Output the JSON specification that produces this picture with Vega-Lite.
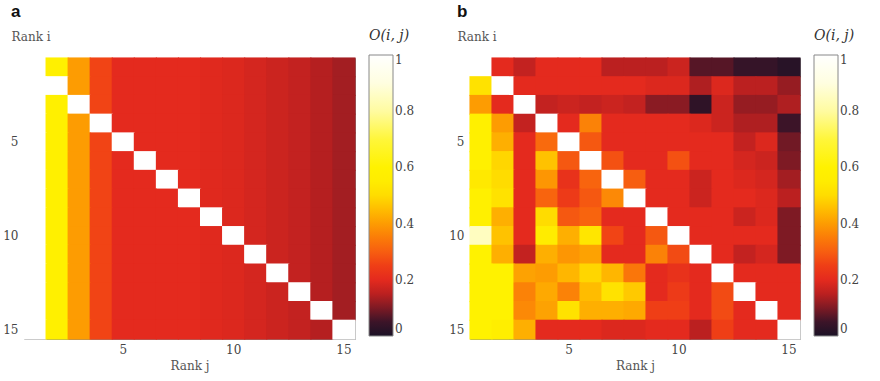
{
"$schema": "https://vega.github.io/schema/vega-lite/v6.json",
"padding": {"left": 2, "top": 2, "right": 2, "bottom": 2},
"background": "white",
"config": {
  "view": {"stroke": "#888", "strokeWidth": 1},
  "axis": {"labelFont": "DejaVu Serif", "labelFontSize": 12, "labelColor": "#444", "titleFont": "DejaVu Serif", "titleFontSize": 12, "titleColor": "#555", "titleFontWeight": "normal", "domain": false, "ticks": false, "grid": false},
  "legend": {"gradientLength": 281, "gradientThickness": 24, "titleFont": "DejaVu Serif", "titleFontStyle": "italic", "titleFontWeight": "normal", "titleFontSize": 14, "titleColor": "#333", "titlePadding": 12, "labelFont": "DejaVu Serif", "labelFontSize": 12, "labelColor": "#444", "labelOffset": 5, "labelBaseline": "middle", "gradientStrokeColor": "#888", "gradientStrokeWidth": 1},
  "title": {"font": "Liberation Sans", "fontSize": 17, "fontWeight": "bold", "color": "#111", "anchor": "start", "frame": "group", "dx": -13, "offset": 8}
},
"spacing": 32,
"resolve": {"scale": {"color": "independent"}},
"datasets": {
"a": [
{"i":1,"j":1,"v":1},{"i":1,"j":2,"v":0.58},{"i":1,"j":3,"v":0.4},{"i":1,"j":4,"v":0.26},{"i":1,"j":5,"v":0.2},{"i":1,"j":6,"v":0.2},{"i":1,"j":7,"v":0.2},{"i":1,"j":8,"v":0.2},{"i":1,"j":9,"v":0.195},{"i":1,"j":10,"v":0.19},{"i":1,"j":11,"v":0.18},{"i":1,"j":12,"v":0.17},{"i":1,"j":13,"v":0.16},{"i":1,"j":14,"v":0.145},{"i":1,"j":15,"v":0.13},
{"i":2,"j":1,"v":1},{"i":2,"j":2,"v":1},{"i":2,"j":3,"v":0.4},{"i":2,"j":4,"v":0.26},{"i":2,"j":5,"v":0.2},{"i":2,"j":6,"v":0.2},{"i":2,"j":7,"v":0.2},{"i":2,"j":8,"v":0.2},{"i":2,"j":9,"v":0.195},{"i":2,"j":10,"v":0.19},{"i":2,"j":11,"v":0.18},{"i":2,"j":12,"v":0.17},{"i":2,"j":13,"v":0.16},{"i":2,"j":14,"v":0.145},{"i":2,"j":15,"v":0.13},
{"i":3,"j":1,"v":1},{"i":3,"j":2,"v":0.58},{"i":3,"j":3,"v":1},{"i":3,"j":4,"v":0.26},{"i":3,"j":5,"v":0.2},{"i":3,"j":6,"v":0.2},{"i":3,"j":7,"v":0.2},{"i":3,"j":8,"v":0.2},{"i":3,"j":9,"v":0.195},{"i":3,"j":10,"v":0.19},{"i":3,"j":11,"v":0.18},{"i":3,"j":12,"v":0.17},{"i":3,"j":13,"v":0.16},{"i":3,"j":14,"v":0.145},{"i":3,"j":15,"v":0.13},
{"i":4,"j":1,"v":1},{"i":4,"j":2,"v":0.58},{"i":4,"j":3,"v":0.4},{"i":4,"j":4,"v":1},{"i":4,"j":5,"v":0.2},{"i":4,"j":6,"v":0.2},{"i":4,"j":7,"v":0.2},{"i":4,"j":8,"v":0.2},{"i":4,"j":9,"v":0.195},{"i":4,"j":10,"v":0.19},{"i":4,"j":11,"v":0.18},{"i":4,"j":12,"v":0.17},{"i":4,"j":13,"v":0.16},{"i":4,"j":14,"v":0.145},{"i":4,"j":15,"v":0.13},
{"i":5,"j":1,"v":1},{"i":5,"j":2,"v":0.58},{"i":5,"j":3,"v":0.4},{"i":5,"j":4,"v":0.26},{"i":5,"j":5,"v":1},{"i":5,"j":6,"v":0.2},{"i":5,"j":7,"v":0.2},{"i":5,"j":8,"v":0.2},{"i":5,"j":9,"v":0.195},{"i":5,"j":10,"v":0.19},{"i":5,"j":11,"v":0.18},{"i":5,"j":12,"v":0.17},{"i":5,"j":13,"v":0.16},{"i":5,"j":14,"v":0.145},{"i":5,"j":15,"v":0.13},
{"i":6,"j":1,"v":1},{"i":6,"j":2,"v":0.58},{"i":6,"j":3,"v":0.4},{"i":6,"j":4,"v":0.26},{"i":6,"j":5,"v":0.2},{"i":6,"j":6,"v":1},{"i":6,"j":7,"v":0.2},{"i":6,"j":8,"v":0.2},{"i":6,"j":9,"v":0.195},{"i":6,"j":10,"v":0.19},{"i":6,"j":11,"v":0.18},{"i":6,"j":12,"v":0.17},{"i":6,"j":13,"v":0.16},{"i":6,"j":14,"v":0.145},{"i":6,"j":15,"v":0.13},
{"i":7,"j":1,"v":1},{"i":7,"j":2,"v":0.58},{"i":7,"j":3,"v":0.4},{"i":7,"j":4,"v":0.26},{"i":7,"j":5,"v":0.2},{"i":7,"j":6,"v":0.2},{"i":7,"j":7,"v":1},{"i":7,"j":8,"v":0.2},{"i":7,"j":9,"v":0.195},{"i":7,"j":10,"v":0.19},{"i":7,"j":11,"v":0.18},{"i":7,"j":12,"v":0.17},{"i":7,"j":13,"v":0.16},{"i":7,"j":14,"v":0.145},{"i":7,"j":15,"v":0.13},
{"i":8,"j":1,"v":1},{"i":8,"j":2,"v":0.58},{"i":8,"j":3,"v":0.4},{"i":8,"j":4,"v":0.26},{"i":8,"j":5,"v":0.2},{"i":8,"j":6,"v":0.2},{"i":8,"j":7,"v":0.2},{"i":8,"j":8,"v":1},{"i":8,"j":9,"v":0.195},{"i":8,"j":10,"v":0.19},{"i":8,"j":11,"v":0.18},{"i":8,"j":12,"v":0.17},{"i":8,"j":13,"v":0.16},{"i":8,"j":14,"v":0.145},{"i":8,"j":15,"v":0.13},
{"i":9,"j":1,"v":1},{"i":9,"j":2,"v":0.58},{"i":9,"j":3,"v":0.4},{"i":9,"j":4,"v":0.26},{"i":9,"j":5,"v":0.2},{"i":9,"j":6,"v":0.2},{"i":9,"j":7,"v":0.2},{"i":9,"j":8,"v":0.2},{"i":9,"j":9,"v":1},{"i":9,"j":10,"v":0.19},{"i":9,"j":11,"v":0.18},{"i":9,"j":12,"v":0.17},{"i":9,"j":13,"v":0.16},{"i":9,"j":14,"v":0.145},{"i":9,"j":15,"v":0.13},
{"i":10,"j":1,"v":1},{"i":10,"j":2,"v":0.58},{"i":10,"j":3,"v":0.4},{"i":10,"j":4,"v":0.26},{"i":10,"j":5,"v":0.2},{"i":10,"j":6,"v":0.2},{"i":10,"j":7,"v":0.2},{"i":10,"j":8,"v":0.2},{"i":10,"j":9,"v":0.195},{"i":10,"j":10,"v":1},{"i":10,"j":11,"v":0.18},{"i":10,"j":12,"v":0.17},{"i":10,"j":13,"v":0.16},{"i":10,"j":14,"v":0.145},{"i":10,"j":15,"v":0.13},
{"i":11,"j":1,"v":1},{"i":11,"j":2,"v":0.58},{"i":11,"j":3,"v":0.4},{"i":11,"j":4,"v":0.26},{"i":11,"j":5,"v":0.2},{"i":11,"j":6,"v":0.2},{"i":11,"j":7,"v":0.2},{"i":11,"j":8,"v":0.2},{"i":11,"j":9,"v":0.195},{"i":11,"j":10,"v":0.19},{"i":11,"j":11,"v":1},{"i":11,"j":12,"v":0.17},{"i":11,"j":13,"v":0.16},{"i":11,"j":14,"v":0.145},{"i":11,"j":15,"v":0.13},
{"i":12,"j":1,"v":1},{"i":12,"j":2,"v":0.58},{"i":12,"j":3,"v":0.4},{"i":12,"j":4,"v":0.26},{"i":12,"j":5,"v":0.2},{"i":12,"j":6,"v":0.2},{"i":12,"j":7,"v":0.2},{"i":12,"j":8,"v":0.2},{"i":12,"j":9,"v":0.195},{"i":12,"j":10,"v":0.19},{"i":12,"j":11,"v":0.18},{"i":12,"j":12,"v":1},{"i":12,"j":13,"v":0.16},{"i":12,"j":14,"v":0.145},{"i":12,"j":15,"v":0.13},
{"i":13,"j":1,"v":1},{"i":13,"j":2,"v":0.58},{"i":13,"j":3,"v":0.4},{"i":13,"j":4,"v":0.26},{"i":13,"j":5,"v":0.2},{"i":13,"j":6,"v":0.2},{"i":13,"j":7,"v":0.2},{"i":13,"j":8,"v":0.2},{"i":13,"j":9,"v":0.195},{"i":13,"j":10,"v":0.19},{"i":13,"j":11,"v":0.18},{"i":13,"j":12,"v":0.17},{"i":13,"j":13,"v":1},{"i":13,"j":14,"v":0.145},{"i":13,"j":15,"v":0.13},
{"i":14,"j":1,"v":1},{"i":14,"j":2,"v":0.58},{"i":14,"j":3,"v":0.4},{"i":14,"j":4,"v":0.26},{"i":14,"j":5,"v":0.2},{"i":14,"j":6,"v":0.2},{"i":14,"j":7,"v":0.2},{"i":14,"j":8,"v":0.2},{"i":14,"j":9,"v":0.195},{"i":14,"j":10,"v":0.19},{"i":14,"j":11,"v":0.18},{"i":14,"j":12,"v":0.17},{"i":14,"j":13,"v":0.16},{"i":14,"j":14,"v":1},{"i":14,"j":15,"v":0.13},
{"i":15,"j":1,"v":1},{"i":15,"j":2,"v":0.58},{"i":15,"j":3,"v":0.4},{"i":15,"j":4,"v":0.26},{"i":15,"j":5,"v":0.2},{"i":15,"j":6,"v":0.2},{"i":15,"j":7,"v":0.2},{"i":15,"j":8,"v":0.2},{"i":15,"j":9,"v":0.195},{"i":15,"j":10,"v":0.19},{"i":15,"j":11,"v":0.18},{"i":15,"j":12,"v":0.17},{"i":15,"j":13,"v":0.16},{"i":15,"j":14,"v":0.145},{"i":15,"j":15,"v":1}
],
"b": [
{"i":1,"j":1,"v":1},{"i":1,"j":2,"v":0.2},{"i":1,"j":3,"v":0.16},{"i":1,"j":4,"v":0.2},{"i":1,"j":5,"v":0.2},{"i":1,"j":6,"v":0.2},{"i":1,"j":7,"v":0.15},{"i":1,"j":8,"v":0.15},{"i":1,"j":9,"v":0.15},{"i":1,"j":10,"v":0.17},{"i":1,"j":11,"v":0.07},{"i":1,"j":12,"v":0.07},{"i":1,"j":13,"v":0.04},{"i":1,"j":14,"v":0.04},{"i":1,"j":15,"v":0.02},
{"i":2,"j":1,"v":0.52},{"i":2,"j":2,"v":1},{"i":2,"j":3,"v":0.2},{"i":2,"j":4,"v":0.2},{"i":2,"j":5,"v":0.2},{"i":2,"j":6,"v":0.2},{"i":2,"j":7,"v":0.2},{"i":2,"j":8,"v":0.2},{"i":2,"j":9,"v":0.19},{"i":2,"j":10,"v":0.19},{"i":2,"j":11,"v":0.14},{"i":2,"j":12,"v":0.19},{"i":2,"j":13,"v":0.15},{"i":2,"j":14,"v":0.15},{"i":2,"j":15,"v":0.12},
{"i":3,"j":1,"v":0.4},{"i":3,"j":2,"v":0.2},{"i":3,"j":3,"v":1},{"i":3,"j":4,"v":0.16},{"i":3,"j":5,"v":0.17},{"i":3,"j":6,"v":0.16},{"i":3,"j":7,"v":0.17},{"i":3,"j":8,"v":0.16},{"i":3,"j":9,"v":0.11},{"i":3,"j":10,"v":0.11},{"i":3,"j":11,"v":0.03},{"i":3,"j":12,"v":0.17},{"i":3,"j":13,"v":0.12},{"i":3,"j":14,"v":0.12},{"i":3,"j":15,"v":0.14},
{"i":4,"j":1,"v":0.58},{"i":4,"j":2,"v":0.4},{"i":4,"j":3,"v":0.16},{"i":4,"j":4,"v":1},{"i":4,"j":5,"v":0.2},{"i":4,"j":6,"v":0.36},{"i":4,"j":7,"v":0.2},{"i":4,"j":8,"v":0.2},{"i":4,"j":9,"v":0.2},{"i":4,"j":10,"v":0.2},{"i":4,"j":11,"v":0.19},{"i":4,"j":12,"v":0.17},{"i":4,"j":13,"v":0.14},{"i":4,"j":14,"v":0.14},{"i":4,"j":15,"v":0.05},
{"i":5,"j":1,"v":0.58},{"i":5,"j":2,"v":0.43},{"i":5,"j":3,"v":0.2},{"i":5,"j":4,"v":0.32},{"i":5,"j":5,"v":1},{"i":5,"j":6,"v":0.29},{"i":5,"j":7,"v":0.2},{"i":5,"j":8,"v":0.2},{"i":5,"j":9,"v":0.2},{"i":5,"j":10,"v":0.2},{"i":5,"j":11,"v":0.2},{"i":5,"j":12,"v":0.2},{"i":5,"j":13,"v":0.16},{"i":5,"j":14,"v":0.19},{"i":5,"j":15,"v":0.09},
{"i":6,"j":1,"v":0.58},{"i":6,"j":2,"v":0.49},{"i":6,"j":3,"v":0.2},{"i":6,"j":4,"v":0.46},{"i":6,"j":5,"v":0.29},{"i":6,"j":6,"v":1},{"i":6,"j":7,"v":0.28},{"i":6,"j":8,"v":0.2},{"i":6,"j":9,"v":0.2},{"i":6,"j":10,"v":0.28},{"i":6,"j":11,"v":0.2},{"i":6,"j":12,"v":0.2},{"i":6,"j":13,"v":0.18},{"i":6,"j":14,"v":0.17},{"i":6,"j":15,"v":0.1},
{"i":7,"j":1,"v":0.54},{"i":7,"j":2,"v":0.5},{"i":7,"j":3,"v":0.2},{"i":7,"j":4,"v":0.39},{"i":7,"j":5,"v":0.22},{"i":7,"j":6,"v":0.31},{"i":7,"j":7,"v":1},{"i":7,"j":8,"v":0.3},{"i":7,"j":9,"v":0.2},{"i":7,"j":10,"v":0.2},{"i":7,"j":11,"v":0.17},{"i":7,"j":12,"v":0.2},{"i":7,"j":13,"v":0.19},{"i":7,"j":14,"v":0.18},{"i":7,"j":15,"v":0.13},
{"i":8,"j":1,"v":0.58},{"i":8,"j":2,"v":0.52},{"i":8,"j":3,"v":0.2},{"i":8,"j":4,"v":0.31},{"i":8,"j":5,"v":0.24},{"i":8,"j":6,"v":0.29},{"i":8,"j":7,"v":0.37},{"i":8,"j":8,"v":1},{"i":8,"j":9,"v":0.2},{"i":8,"j":10,"v":0.2},{"i":8,"j":11,"v":0.17},{"i":8,"j":12,"v":0.2},{"i":8,"j":13,"v":0.2},{"i":8,"j":14,"v":0.19},{"i":8,"j":15,"v":0.15},
{"i":9,"j":1,"v":0.58},{"i":9,"j":2,"v":0.43},{"i":9,"j":3,"v":0.2},{"i":9,"j":4,"v":0.5},{"i":9,"j":5,"v":0.29},{"i":9,"j":6,"v":0.31},{"i":9,"j":7,"v":0.2},{"i":9,"j":8,"v":0.2},{"i":9,"j":9,"v":1},{"i":9,"j":10,"v":0.2},{"i":9,"j":11,"v":0.2},{"i":9,"j":12,"v":0.2},{"i":9,"j":13,"v":0.17},{"i":9,"j":14,"v":0.19},{"i":9,"j":15,"v":0.1},
{"i":10,"j":1,"v":0.85},{"i":10,"j":2,"v":0.46},{"i":10,"j":3,"v":0.2},{"i":10,"j":4,"v":0.55},{"i":10,"j":5,"v":0.43},{"i":10,"j":6,"v":0.53},{"i":10,"j":7,"v":0.26},{"i":10,"j":8,"v":0.2},{"i":10,"j":9,"v":0.29},{"i":10,"j":10,"v":1},{"i":10,"j":11,"v":0.2},{"i":10,"j":12,"v":0.2},{"i":10,"j":13,"v":0.2},{"i":10,"j":14,"v":0.2},{"i":10,"j":15,"v":0.1},
{"i":11,"j":1,"v":0.6},{"i":11,"j":2,"v":0.43},{"i":11,"j":3,"v":0.16},{"i":11,"j":4,"v":0.43},{"i":11,"j":5,"v":0.39},{"i":11,"j":6,"v":0.41},{"i":11,"j":7,"v":0.2},{"i":11,"j":8,"v":0.2},{"i":11,"j":9,"v":0.36},{"i":11,"j":10,"v":0.27},{"i":11,"j":11,"v":1},{"i":11,"j":12,"v":0.2},{"i":11,"j":13,"v":0.16},{"i":11,"j":14,"v":0.18},{"i":11,"j":15,"v":0.1},
{"i":12,"j":1,"v":0.6},{"i":12,"j":2,"v":0.6},{"i":12,"j":3,"v":0.41},{"i":12,"j":4,"v":0.4},{"i":12,"j":5,"v":0.44},{"i":12,"j":6,"v":0.49},{"i":12,"j":7,"v":0.44},{"i":12,"j":8,"v":0.34},{"i":12,"j":9,"v":0.2},{"i":12,"j":10,"v":0.22},{"i":12,"j":11,"v":0.2},{"i":12,"j":12,"v":1},{"i":12,"j":13,"v":0.2},{"i":12,"j":14,"v":0.2},{"i":12,"j":15,"v":0.2},
{"i":13,"j":1,"v":0.6},{"i":13,"j":2,"v":0.6},{"i":13,"j":3,"v":0.36},{"i":13,"j":4,"v":0.42},{"i":13,"j":5,"v":0.36},{"i":13,"j":6,"v":0.45},{"i":13,"j":7,"v":0.52},{"i":13,"j":8,"v":0.47},{"i":13,"j":9,"v":0.2},{"i":13,"j":10,"v":0.24},{"i":13,"j":11,"v":0.2},{"i":13,"j":12,"v":0.27},{"i":13,"j":13,"v":1},{"i":13,"j":14,"v":0.2},{"i":13,"j":15,"v":0.2},
{"i":14,"j":1,"v":0.6},{"i":14,"j":2,"v":0.6},{"i":14,"j":3,"v":0.37},{"i":14,"j":4,"v":0.41},{"i":14,"j":5,"v":0.52},{"i":14,"j":6,"v":0.43},{"i":14,"j":7,"v":0.43},{"i":14,"j":8,"v":0.42},{"i":14,"j":9,"v":0.25},{"i":14,"j":10,"v":0.25},{"i":14,"j":11,"v":0.2},{"i":14,"j":12,"v":0.27},{"i":14,"j":13,"v":0.2},{"i":14,"j":14,"v":1},{"i":14,"j":15,"v":0.2},
{"i":15,"j":1,"v":0.6},{"i":15,"j":2,"v":0.57},{"i":15,"j":3,"v":0.43},{"i":15,"j":4,"v":0.2},{"i":15,"j":5,"v":0.2},{"i":15,"j":6,"v":0.2},{"i":15,"j":7,"v":0.19},{"i":15,"j":8,"v":0.19},{"i":15,"j":9,"v":0.2},{"i":15,"j":10,"v":0.2},{"i":15,"j":11,"v":0.15},{"i":15,"j":12,"v":0.25},{"i":15,"j":13,"v":0.2},{"i":15,"j":14,"v":0.2},{"i":15,"j":15,"v":1}
]
},
"hconcat": [
{
  "width": 331, "height": 281,
  "title": {"text": "a"},
  "data": {"name": "a"},
  "mark": {"type": "rect", "width": {"band": 1.05}, "height": {"band": 1.06}},
  "encoding": {
    "x": {"field": "j", "type": "ordinal", "axis": {"values": [5, 10, 15], "labelAngle": 0, "labelPadding": 5, "title": "Rank j", "titlePadding": 5}},
    "y": {"field": "i", "type": "ordinal", "axis": {"values": [5, 10, 15], "labelPadding": 6, "title": "Rank i", "titleAngle": 0, "titleAlign": "left", "titleBaseline": "alphabetic", "titleX": -13, "titleY": -18}},
    "color": {"field": "v", "type": "quantitative",
      "scale": {"interpolate": "rgb", "domain": [0, 0.05, 0.1, 0.15, 0.2, 0.25, 0.3, 0.35, 0.4, 0.45, 0.5, 0.55, 0.6, 0.7, 0.8, 0.9, 1],
                "range": ["#1b1226", "#3c1428", "#7e1a24", "#bb2020", "#e42a1e", "#ef3e16", "#f75e10", "#fb7c08", "#fd9c02", "#ffbc00", "#ffdc00", "#ffec00", "#fff200", "#fff63a", "#fffba0", "#fffee0", "#ffffff"]},
      "legend": {"title": "O(i, j)", "values": [0, 0.2, 0.4, 0.6, 0.8, 1], "format": "~g", "orient": "none", "legendX": 345, "legendY": -29}}
  }
},
{
  "width": 330, "height": 281,
  "title": {"text": "b"},
  "data": {"name": "b"},
  "mark": {"type": "rect", "width": {"band": 1.05}, "height": {"band": 1.06}},
  "encoding": {
    "x": {"field": "j", "type": "ordinal", "axis": {"values": [5, 10, 15], "labelAngle": 0, "labelPadding": 5, "title": "Rank j", "titlePadding": 5}},
    "y": {"field": "i", "type": "ordinal", "axis": {"values": [5, 10, 15], "labelPadding": 6, "title": "Rank i", "titleAngle": 0, "titleAlign": "left", "titleBaseline": "alphabetic", "titleX": -13, "titleY": -18}},
    "color": {"field": "v", "type": "quantitative",
      "scale": {"interpolate": "rgb", "domain": [0, 0.05, 0.1, 0.15, 0.2, 0.25, 0.3, 0.35, 0.4, 0.45, 0.5, 0.55, 0.6, 0.7, 0.8, 0.9, 1],
                "range": ["#1b1226", "#3c1428", "#7e1a24", "#bb2020", "#e42a1e", "#ef3e16", "#f75e10", "#fb7c08", "#fd9c02", "#ffbc00", "#ffdc00", "#ffec00", "#fff200", "#fff63a", "#fffba0", "#fffee0", "#ffffff"]},
      "legend": {"title": "O(i, j)", "values": [0, 0.2, 0.4, 0.6, 0.8, 1], "format": "~g", "orient": "none", "legendX": 344, "legendY": -29}}
  }
}
]
}
